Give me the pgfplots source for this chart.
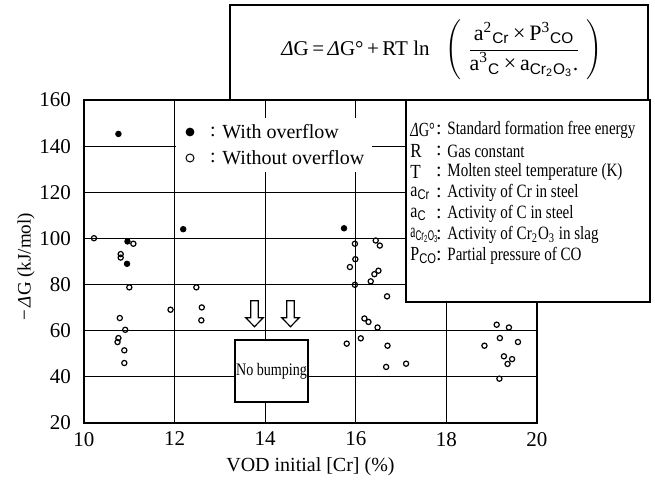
\documentclass[border=0pt]{standalone}
\usepackage{fontspec}
\setmainfont{Liberation Serif}
\newfontfamily\subsf{Liberation Sans}
\newfontfamily\cond[FakeStretch=0.8]{Liberation Serif}
\usepackage{pgfplots}
\pgfplotsset{compat=1.18}
\newcommand{\sbs}[1]{\textsubscript{\subsf #1}}
\begin{document}
\begin{tikzpicture}
\useasboundingbox (-42pt,-29.5pt) rectangle (285.5pt,211.5pt);
\begin{axis}[
  at={(0,0)}, anchor=south west,
  width=226.5pt, height=161.5pt, scale only axis,
  xmin=10, xmax=20, ymin=20, ymax=160,
  xtick={10,12,...,20}, ytick={20,40,...,160},
  grid=major, major grid style={black, line width=0.5pt},
  axis line style={black, line width=0.7pt},
  major tick length=0pt,
  /pgf/number format/assume math mode=true,
  tick label style={font=\fontsize{10.5}{12}\selectfont},
  yticklabel style={xshift=-3pt},
  xticklabel style={yshift=-1pt},
  xlabel={VOD initial [Cr] (\%)},
  ylabel={−\,\textit{Δ}G (kJ/mol)},
  xlabel style={at={(axis description cs:0.5,-0.136)}, anchor=center, font=\fontsize{10}{12}\selectfont},
  ylabel style={at={(axis description cs:-0.128,0.483)}, anchor=center, font=\fontsize{9.5}{12}\selectfont},
  clip=false,
]
\addplot[only marks, mark=*, mark size=1.4pt, black] coordinates {
(10.76,145.3) (10.96,98.7) (10.95,89.0) (12.19,104.0) (15.74,104.4)
};
\addplot[only marks, mark=o, mark size=1.3pt, black, mark options={line width=0.6pt}] coordinates {
(10.22,100.1) (11.09,97.7) (10.81,93.2) (10.81,91.7) (11.00,78.8)
(10.79,65.5) (10.91,60.4) (10.76,56.8) (10.74,55.1) (10.89,51.5) (10.89,46.0)
(11.91,69.1) (12.48,78.8) (12.60,70.1) (12.59,64.5)
(15.98,97.7) (15.99,91.0) (15.87,87.6) (15.98,79.9) (15.80,54.4)
(16.11,56.7) (16.19,65.3) (16.28,63.8) (16.48,61.4) (16.44,99.1) (16.53,96.9)
(16.33,81.4) (16.41,84.5) (16.50,86.0) (16.69,74.9) (16.70,53.5) (16.67,44.3) (17.11,45.7)
(19.11,62.6) (19.38,61.4) (19.18,56.8) (19.58,55.1) (18.84,53.5)
(19.27,48.9) (19.45,47.7) (19.35,45.6) (19.17,39.2)
};
\end{axis}
\begin{scope}[x=0.5pt, y=-0.5pt, shift={(-42pt,211.5pt)}]
  % equation box
  \draw[line width=0.7pt, fill=white] (230,5) rectangle (648,100);
  \node[anchor=west, inner sep=0pt, font=\fontsize{10.5}{12}\selectfont] at (281,50)
    {\textit{Δ}G\,=\,\textit{Δ}G°\,+\,RT ln\ \ \ $\Biggl(\;\displaystyle\frac{\mbox{\fontsize{11}{12}\selectfont a\textsuperscript{2}\sbs{Cr}\,×\,P\textsuperscript{3}\sbs{CO}}}{\mbox{\fontsize{11}{12}\selectfont a\textsuperscript{3}\sbs{C}\,×\,a\sbs{Cr\textsubscript{2}O\textsubscript{3}}.}}\;\Biggr)$};
  % symbol box
  \draw[line width=0.7pt, fill=white] (406,100) rectangle (650,302);
  \foreach \s/\w/\d [count=\i] in {
     {\textit{Δ}G°}/0.72/{Standard formation free energy},
     {R}/0.85/{Gas constant},
     {T}/0.85/{Molten steel temperature (K)},
     {a\sbs{Cr}}/0.8/{Activity of Cr in steel},
     {a\sbs{C}}/0.8/{Activity of C in steel},
     {a\sbs{Cr\textsubscript{2}O\textsubscript{3}}}/0.58/{Activity of Cr\textsubscript{2}O\textsubscript{3} in slag},
     {P\sbs{CO}}/0.8/{Partial pressure of CO}} {
    \node[anchor=west, inner sep=0pt, font=\fontsize{10}{11}\selectfont] at (410,109+21*\i) {\scalebox{\w}[1]{\s}};
    \node[inner sep=0pt, font=\fontsize{10}{12}\selectfont] at (439,109+21*\i) {:};
    \node[anchor=west, inner sep=0pt, font=\fontsize{9.4}{11}\cond] at (447,109+21*\i) {\d};
  }
  % legend
  \fill[white] (176,118) rectangle (372,172);
  \fill (190,132) circle (2.2pt);
  \draw[line width=0.5pt] (190,158) circle (2pt);
  \node[inner sep=0pt, font=\fontsize{10}{12}\selectfont] at (213,132) {:};
  \node[inner sep=0pt, font=\fontsize{10}{12}\selectfont] at (213,158) {:};
  \node[anchor=west, inner sep=0pt, font=\fontsize{10}{12}\selectfont] at (222,132) {With overflow};
  \node[anchor=west, inner sep=0pt, font=\fontsize{10}{12}\selectfont] at (222,158) {Without overflow};
  % arrows
  \foreach \dx in {0,36} {
    \draw[fill=white, line width=0.6pt, shift={(\dx,0)}]
      (250.7,300.7) -- (258.3,300.7) -- (258.3,317.7) -- (263.3,317.7) -- (254.5,326.7)
      -- (245.7,317.7) -- (250.7,317.7) -- cycle;
  }
  % no bumping box
  \draw[line width=0.7pt, fill=white] (235,340) rectangle (308,402);
  \node[inner sep=0pt, font=\fontsize{8.8}{10}\cond] at (271.5,371) {No bumping};
\end{scope}
\end{tikzpicture}
\end{document}
